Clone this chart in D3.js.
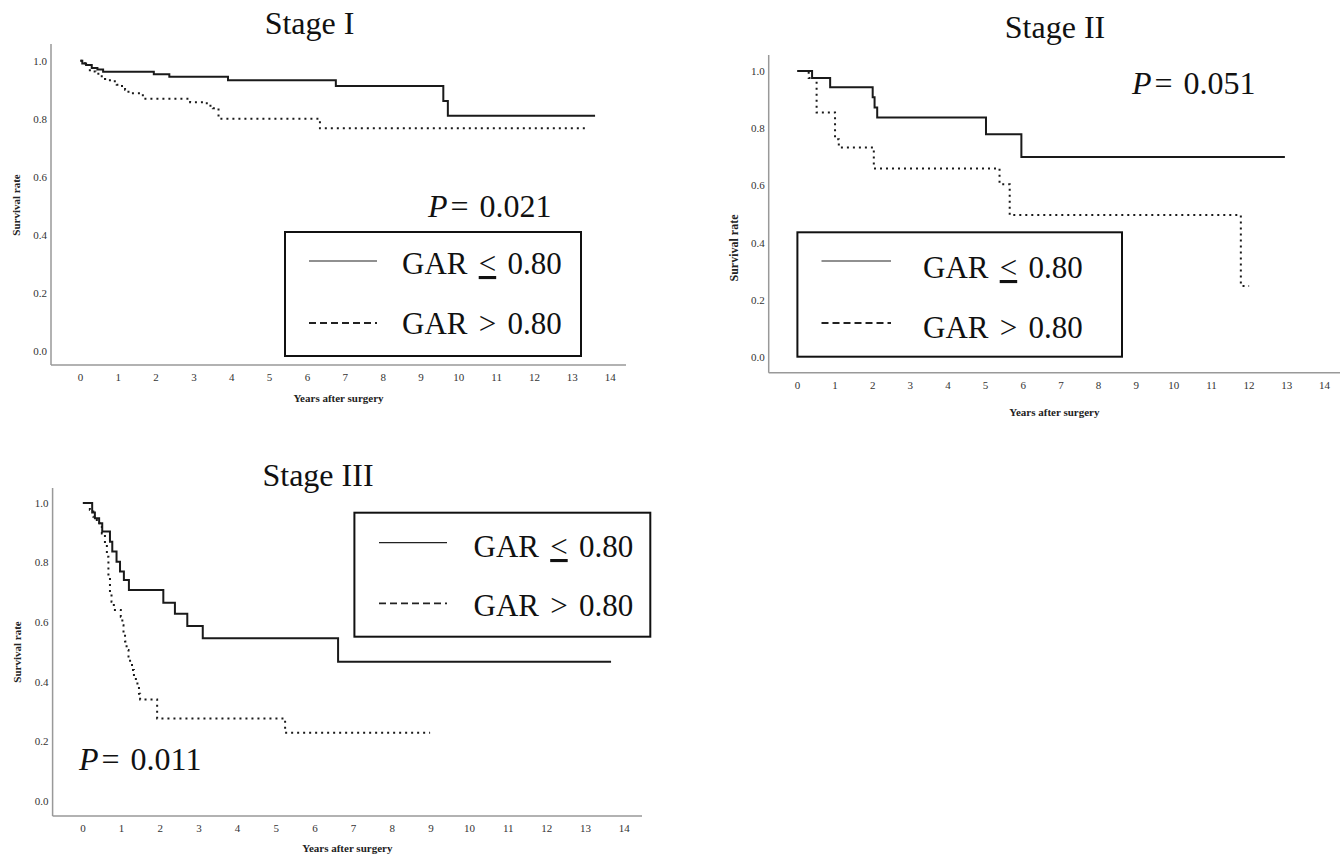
<!DOCTYPE html>
<html>
<head>
<meta charset="utf-8">
<script src="https://cdn.jsdelivr.net/npm/d3@7"></script>
<style>
body { margin: 0; background: #fff; }
text { font-family: "Liberation Serif", "Times New Roman", serif; }
</style>
</head>
<body>
<script>
var w = 1344;
var h = 856;

// data
var years = d3.range(0, 15);
var survTicks = [0, 0.2, 0.4, 0.6, 0.8, 1.0];
var stageTitles = ["Stage I", "Stage II", "Stage III"];
var pValues = ["0.021", "0.051", "0.011"];
var legendLabels = ["GAR ≤ 0.80", "GAR > 0.80"];

// [years, survival] step points, GAR <= 0.80 (solid) and GAR > 0.80 (dotted)
var stage1Low = [[0, 1], [0.05, 0.99], [0.15, 0.985], [0.3, 0.975], [0.45, 0.97], [0.6, 0.962],
    [1.94, 0.953], [2.35, 0.945], [3.9, 0.933], [6.75, 0.913], [9.59, 0.861], [9.71, 0.81]];
var stage1LowEnd = 13.6;
var stage1High = [[0, 1], [0.12, 0.985], [0.25, 0.963], [0.4, 0.955], [0.52, 0.946], [0.65, 0.937],
    [0.78, 0.929], [0.96, 0.917], [1.1, 0.908], [1.18, 0.9], [1.27, 0.888], [1.65, 0.869],
    [2.9, 0.857], [3.34, 0.845], [3.5, 0.836], [3.65, 0.8], [6.33, 0.767]];
var stage1HighEnd = 13.38;

var stage2Low = [[0, 1], [0.39, 0.976], [0.87, 0.943], [2.0, 0.908], [2.05, 0.873], [2.12, 0.838],
    [5.01, 0.779], [5.95, 0.7]];
var stage2LowEnd = 12.95;
var stage2High = [[0, 1], [0.3, 0.976], [0.51, 0.855], [1.0, 0.762], [1.1, 0.733], [2.03, 0.66],
    [5.37, 0.605], [5.64, 0.497], [11.78, 0.25]];
var stage2HighEnd = 12.0;

var stage3Low = [[0, 1], [0.24, 0.968], [0.31, 0.949], [0.42, 0.932], [0.5, 0.904], [0.7, 0.87],
    [0.76, 0.837], [0.87, 0.803], [0.96, 0.77], [1.06, 0.742], [1.19, 0.708], [2.08, 0.665],
    [2.38, 0.628], [2.7, 0.587], [3.1, 0.546], [6.6, 0.467]];
var stage3LowEnd = 13.66;
var stage3High = [[0, 1], [0.18, 0.977], [0.27, 0.954], [0.36, 0.932], [0.49, 0.898], [0.57, 0.86],
    [0.62, 0.82], [0.66, 0.753], [0.7, 0.697], [0.74, 0.669], [0.8, 0.641], [0.98, 0.618],
    [1.02, 0.59], [1.05, 0.563], [1.09, 0.535], [1.13, 0.507], [1.18, 0.485], [1.22, 0.462],
    [1.27, 0.44], [1.32, 0.417], [1.37, 0.4], [1.41, 0.384], [1.45, 0.36], [1.48, 0.341],
    [1.92, 0.277], [5.23, 0.229]];
var stage3HighEnd = 8.98;

var curves = [
    [[stage1Low, stage1LowEnd], [stage1High, stage1HighEnd]],
    [[stage2Low, stage2LowEnd], [stage2High, stage2HighEnd]],
    [[stage3Low, stage3LowEnd], [stage3High, stage3HighEnd]]
];

// panel layout (pixels)
var panels = [
    { x0: 80.4, x14: 610.2, y1: 60.7, y0: 350.7, ax: 51, top: 44, ay: 365, right: 626,
      tickY: 381, xTitleY: 402, yTitleX: 20, yTitleY: 205, yTitleSize: 11, titleX: 309.5, titleY: 34,
      pX: 428, pY: 217,
      box: [285, 232, 581, 356], lineX: [309, 377], lineY: [261, 323], textX: 402, textY: [274, 334] },
    { x0: 797.4, x14: 1324.4, y1: 71, y0: 357.5, ax: 768.7, top: 55, ay: 372.7, right: 1340,
      tickY: 389, xTitleY: 416, yTitleX: 738, yTitleY: 248, yTitleSize: 12, titleX: 1055, titleY: 38,
      pX: 1132, pY: 94,
      box: [797.4, 232.3, 1122, 356.7], lineX: [821.5, 891], lineY: [261, 323], textX: 923, textY: [278, 338] },
    { x0: 82.9, x14: 624.2, y1: 503, y0: 801, ax: 52.6, top: 488, ay: 816, right: 642,
      tickY: 832, xTitleY: 852, yTitleX: 21, yTitleY: 652, yTitleSize: 11, titleX: 318, titleY: 486,
      pX: 79, pY: 770,
      box: [354.4, 512.7, 650.3, 636.7], lineX: [379, 447], lineY: [542.7, 603.3], textX: 473.5, textY: [557, 616] }
];

var svg = d3.select("body")
    .append("svg")
    .attr("width", w)
    .attr("height", h);

panels.forEach(function (p, i) {
    var g = svg.append("g");

    var x = d3.scaleLinear().domain([0, 14]).range([p.x0, p.x14]);
    var y = d3.scaleLinear().domain([0, 1]).range([p.y0, p.y1]);

    // axis lines
    g.append("line")
        .attr("x1", p.ax).attr("x2", p.ax)
        .attr("y1", p.top).attr("y2", p.ay)
        .attr("stroke", "#999").attr("stroke-width", 1.5);
    g.append("line")
        .attr("x1", p.ax).attr("x2", p.right)
        .attr("y1", p.ay).attr("y2", p.ay)
        .attr("stroke", "#999").attr("stroke-width", 1.5);

    // tick labels
    g.selectAll(".xt")
        .data(years)
        .enter()
        .append("text")
        .attr("x", d => x(d))
        .attr("y", p.tickY)
        .attr("text-anchor", "middle")
        .attr("font-size", 11)
        .attr("fill", "#333")
        .text(d => d);
    g.selectAll(".yt")
        .data(survTicks)
        .enter()
        .append("text")
        .attr("x", p.ax - 4)
        .attr("y", d => y(d))
        .attr("dy", "0.35em")
        .attr("text-anchor", "end")
        .attr("font-size", 11)
        .attr("fill", "#333")
        .text(d => d3.format(".1f")(d));

    // axis titles
    g.append("text")
        .attr("x", (p.ax + p.right) / 2)
        .attr("y", p.xTitleY)
        .attr("text-anchor", "middle")
        .attr("font-size", 11)
        .attr("font-weight", "bold")
        .attr("fill", "#222")
        .text("Years after surgery");
    g.append("text")
        .attr("transform", "translate(" + p.yTitleX + "," + p.yTitleY + ") rotate(-90)")
        .attr("text-anchor", "middle")
        .attr("font-size", p.yTitleSize)
        .attr("font-weight", "bold")
        .attr("fill", "#222")
        .text("Survival rate");

    // stage title
    g.append("text")
        .attr("x", p.titleX)
        .attr("y", p.titleY)
        .attr("text-anchor", "middle")
        .attr("font-size", 32)
        .attr("fill", "#111")
        .text(stageTitles[i]);

    // survival curves
    var line = d3.line()
        .x(d => x(d[0]))
        .y(d => y(d[1]))
        .curve(d3.curveStepAfter);
    curves[i].forEach(function (c, k) {
        var pts = c[0].concat([[c[1], c[0][c[0].length - 1][1]]]);
        g.append("path")
            .attr("d", line(pts))
            .attr("fill", "none")
            .attr("stroke", "#1a1a1a")
            .attr("stroke-width", 2)
            .attr("stroke-dasharray", k == 0 ? null : "2,4");
    });

    // p value
    var pt = g.append("text")
        .attr("x", p.pX)
        .attr("y", p.pY)
        .attr("font-size", 32)
        .attr("word-spacing", 3)
        .attr("fill", "#111");
    pt.append("tspan").attr("font-style", "italic").text("P");
    pt.append("tspan").attr("dx", 3).text("= " + pValues[i]);

    // legend
    g.append("rect")
        .attr("x", p.box[0]).attr("y", p.box[1])
        .attr("width", p.box[2] - p.box[0])
        .attr("height", p.box[3] - p.box[1])
        .attr("fill", "#fff")
        .attr("stroke", "#111")
        .attr("stroke-width", 2);
    legendLabels.forEach(function (lab, k) {
        g.append("line")
            .attr("x1", p.lineX[0]).attr("x2", p.lineX[1])
            .attr("y1", p.lineY[k]).attr("y2", p.lineY[k])
            .attr("stroke", "#222")
            .attr("stroke-width", k == 0 ? 1.2 : 1.8)
            .attr("stroke-dasharray", k == 0 ? null : "7,4");
        var t = g.append("text")
            .attr("x", p.textX)
            .attr("y", p.textY[k])
            .attr("font-size", 31)
            .attr("word-spacing", 3.5)
            .attr("fill", "#111");
        if (lab.indexOf("≤") >= 0) {
            // drawn as an underlined "<" in the original
            var parts = lab.split("≤");
            t.append("tspan").text(parts[0]);
            t.append("tspan").attr("text-decoration", "underline").text("<");
            t.append("tspan").text(parts[1]);
        } else {
            t.text(lab);
        }
    });
});
</script>
</body>
</html>
